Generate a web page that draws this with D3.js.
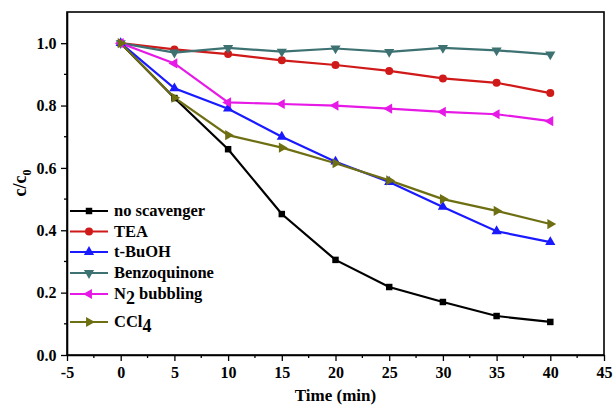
<!DOCTYPE html>
<html>
<head>
<meta charset="utf-8">
<script src="https://cdn.jsdelivr.net/npm/d3@7"></script>
<style>
  body { margin: 0; background: #fff; }
  svg text { font-family: "Liberation Serif", Tinos, "Times New Roman", "DejaVu Serif", serif !important; font-weight: bold; }
</style>
</head>
<body>
<div id="chart"></div>
<script>
const times = [0, 5, 10, 15, 20, 25, 30, 35, 40];

const noScavenger = [1.0, 0.824, 0.66, 0.452, 0.305, 0.218, 0.17, 0.125, 0.106];
const tea = [1.0, 0.98, 0.965, 0.945, 0.93, 0.911, 0.887, 0.873, 0.84];
const tBuOH = [1.0, 0.855, 0.79, 0.70, 0.62, 0.555, 0.475, 0.397, 0.362];
const benzoquinone = [1.0, 0.97, 0.985, 0.973, 0.983, 0.972, 0.985, 0.977, 0.964];
const n2Bubbling = [1.0, 0.935, 0.81, 0.805, 0.80, 0.79, 0.78, 0.772, 0.75];
const ccl4 = [1.0, 0.825, 0.705, 0.665, 0.615, 0.56, 0.50, 0.462, 0.42];

const xTicks = [-5, 0, 5, 10, 15, 20, 25, 30, 35, 40, 45];
const yTicks = [0.0, 0.2, 0.4, 0.6, 0.8, 1.0];

const series = [
  {name: "no scavenger", values: noScavenger, color: "#000000", symbol: d3.symbolSquare, size: 42, rot: 0},
  {name: "TEA", values: tea, color: "#d01a1a", symbol: d3.symbolCircle, size: 50, rot: 0},
  {name: "t-BuOH", values: tBuOH, color: "#1a1aff", symbol: d3.symbolTriangle, size: 45, rot: 0},
  {name: "Benzoquinone", values: benzoquinone, color: "#3e7272", symbol: d3.symbolTriangle, size: 45, rot: 180},
  {name: "N2 bubbling", values: n2Bubbling, color: "#e619e6", symbol: d3.symbolTriangle, size: 45, rot: -90},
  {name: "CCl4", values: ccl4, color: "#6e6e12", symbol: d3.symbolTriangle, size: 45, rot: 90},
];

const W = 615, H = 407;
const margin = {left: 67, right: 11, top: 12, bottom: 52};

const svg = d3.select("#chart").append("svg")
  .attr("width", W)
  .attr("height", H);

const x = d3.scaleLinear()
  .domain([-5, 45])
  .range([margin.left, W - margin.right]);

const y = d3.scaleLinear()
  .domain([0, 1.1])
  .range([H - margin.bottom, margin.top]);

// frame
svg.append("rect")
  .attr("x", x(-5)).attr("y", y(1.1))
  .attr("width", x(45) - x(-5)).attr("height", y(0) - y(1.1))
  .attr("fill", "none").attr("stroke", "#000").attr("stroke-width", 1.6);

// minor ticks
const xMinor = d3.range(-2.5, 45, 5);
const yMinor = d3.range(0.1, 1.1, 0.2);
svg.append("g").selectAll("line").data(xMinor).enter().append("line")
  .attr("x1", d => x(d)).attr("x2", d => x(d))
  .attr("y1", y(0)).attr("y2", y(0) + 3)
  .attr("stroke", "#000").attr("stroke-width", 1.3);
svg.append("g").selectAll("line").data(yMinor).enter().append("line")
  .attr("y1", d => y(d)).attr("y2", d => y(d))
  .attr("x1", x(-5)).attr("x2", x(-5) - 3)
  .attr("stroke", "#000").attr("stroke-width", 1.3);

const xAxis = svg.append("g")
  .attr("transform", `translate(0,${y(0)})`)
  .call(d3.axisBottom(x).tickValues(xTicks).tickFormat(d => String(d)).tickSize(6).tickSizeOuter(0));
const yAxis = svg.append("g")
  .attr("transform", `translate(${x(-5)},0)`)
  .call(d3.axisLeft(y).tickValues(yTicks).tickFormat(d => d.toFixed(1)).tickSize(6).tickSizeOuter(0));

[xAxis, yAxis].forEach(ax => {
  ax.attr("font-family", null).attr("font-size", null);
  ax.select(".domain").attr("stroke-width", 1.6);
  ax.selectAll(".tick line").attr("stroke-width", 1.3);
  ax.selectAll(".tick text")
    .attr("font-size", 16)
    .attr("fill", "#000");
});
xAxis.selectAll(".tick text").attr("dy", "0.9em");
yAxis.selectAll(".tick text").attr("dx", "-0.1em");

// axis titles
svg.append("text")
  .attr("x", (x(-5) + x(45)) / 2)
  .attr("y", 401)
  .attr("text-anchor", "middle")
  .attr("font-size", 17)
  .text("Time (min)");

const yTitle = svg.append("text")
  .attr("transform", `translate(26,183) rotate(-90)`)
  .attr("text-anchor", "middle")
  .attr("font-size", 18);
yTitle.append("tspan").text("c/c");
yTitle.append("tspan").attr("font-size", 12).attr("dy", 5).text("0");

const line = d3.line()
  .x((d, i) => x(times[i]))
  .y(d => y(d));

const gSeries = svg.append("g");
series.forEach(s => {
  gSeries.append("path")
    .datum(s.values)
    .attr("d", line)
    .attr("fill", "none")
    .attr("stroke", s.color)
    .attr("stroke-width", 2.2);
});
series.forEach(s => {
  gSeries.append("g").selectAll("path")
    .data(s.values)
    .enter().append("path")
      .attr("d", d3.symbol().type(s.symbol).size(s.size))
      .attr("transform", (d, i) => `translate(${x(times[i])},${y(d)}) rotate(${s.rot})`)
      .attr("fill", s.color);
});

// legend
const legendY = [211, 231.5, 252, 273, 294, 322];
const legend = svg.append("g");
series.forEach((s, i) => {
  const ly = legendY[i];
  legend.append("line")
    .attr("x1", 70).attr("x2", 108)
    .attr("y1", ly).attr("y2", ly)
    .attr("stroke", s.color).attr("stroke-width", 2.2);
  legend.append("path")
    .attr("d", d3.symbol().type(s.symbol).size(s.size))
    .attr("transform", `translate(89,${ly}) rotate(${s.rot})`)
    .attr("fill", s.color);
  const t = legend.append("text")
    .attr("x", 114)
    .attr("y", ly + 5)
    .attr("font-size", 16.5);
  if (s.name === "N2 bubbling") {
    t.append("tspan").text("N");
    t.append("tspan").attr("dy", 5).attr("font-size", 18).text("2");
    t.append("tspan").attr("dy", -5).text(" bubbling");
  } else if (s.name === "CCl4") {
    t.append("tspan").text("CCl");
    t.append("tspan").attr("dy", 5).attr("font-size", 18).text("4");
  } else {
    t.text(s.name);
  }
});
</script>
</body>
</html>
